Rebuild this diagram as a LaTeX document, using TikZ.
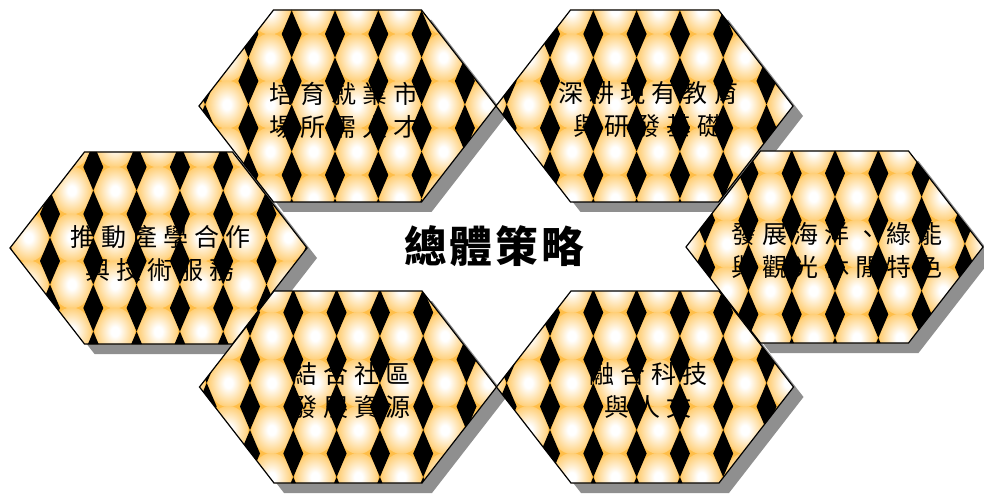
\documentclass[tikz,border=0pt]{standalone}
\usepackage{fontspec}
\newfontfamily\hexfont[LetterSpace=24]{Noto Sans CJK TC}
\newfontfamily\titlefont[LetterSpace=7]{Noto Sans CJK TC}
\definecolor{tileorange}{RGB}{255,190,72}
\definecolor{shadowgray}{RGB}{143,143,143}
\pgfdeclareradialshading{tileglowshade}{\pgfpoint{0bp}{0bp}}{color(0bp)=(white); color(5bp)=(white); color(32bp)=(tileorange); color(50bp)=(tileorange)}
\tikzset{
  hexshadow/.style={fill=shadowgray, draw=none},
  hexborder/.style={draw=black, line width=0.9},
  tilediamond/.style={fill=black, draw=none},
  glowspot/.style={shading=tileglowshade},
  hextext/.style={font=\hexfont\fontsize{18.75pt}{24.75pt}\selectfont, align=center, inner sep=0.75pt},
  titletext/.style={font=\titlefont\bfseries\fontsize{32pt}{36pt}\selectfont, inner sep=0.75pt}
}

\begin{document}
\begin{tikzpicture}[x=0.75pt,y=0.75pt,yscale=-1,xscale=1]
\useasboundingbox (0,0) rectangle (984,495);

%Shape: Hexagon shadows
\foreach \cx/\cy in {347.5/106, 644.5/106, 158.5/248, 834.5/247, 348/387, 645/387}
  \fill[hexshadow, shift={(\cx+10,\cy+10)}] (-148.5,0) -- (-74,-96) -- (74,-96) -- (148.5,0) -- (74,96) -- (-74,96) -- cycle ;

%Shape: Hexagons with diamond tiles
\foreach \cx/\cy/\ox/\oy in {347.5/106/-12.5/22, 644.5/106/-7.9/22, 158.5/248/-21.9/13, 834.5/247/0.5/20.3, 348/387/-11.4/19.5, 645/387/-8.4/19.5}{
  \begin{scope}[shift={(\cx,\cy)}]
    \clip (-148.5,0) -- (-74,-96) -- (74,-96) -- (148.5,0) -- (74,96) -- (-74,96) -- cycle ;
    \fill[tileorange] (-150,-100) rectangle (150,100) ;
    \foreach \i in {-4,...,4}
      \foreach \j in {-3,...,3}
        \shade[glowspot] (\ox+43.3*\i+21.65,\oy+47*\j+23.5) ellipse [x radius=20, y radius=24] ;
    \foreach \i in {-4,...,4}
      \foreach \j in {-3,...,3}
        \fill[tilediamond] (\ox+43.3*\i,\oy+47*\j-23.5) -- ++(10,23.5) -- ++(-10,23.5) -- ++(-10,-23.5) -- cycle ;
  \end{scope}
  \draw[hexborder, shift={(\cx,\cy)}] (-148.5,0) -- (-74,-96) -- (74,-96) -- (148.5,0) -- (74,96) -- (-74,96) -- cycle ;
}

% Text Node
\node[hextext] (peiyu) at (344,110.5) {培育就業市\\場所需人才};
% Text Node
\node[hextext] (shengeng) at (648,109) {深耕現有教育\\與研發基礎};
% Text Node
\node[hextext] (tuidong) at (160,253) {推動產學合作\\與技術服務};
% Text Node
\node[hextext] (fazhan) at (837,250) {發展海洋、綠能\\與觀光休閒特色};
% Text Node
\node[hextext] (jiehe) at (351,390.5) {結合社區\\發展資源};
% Text Node
\node[hextext] (ronghe) at (648,390) {融合科技\\與人文};
% Text Node
\node[titletext] (zongti) at (494,246.5) {總體策略};

\end{tikzpicture}
\end{document}
